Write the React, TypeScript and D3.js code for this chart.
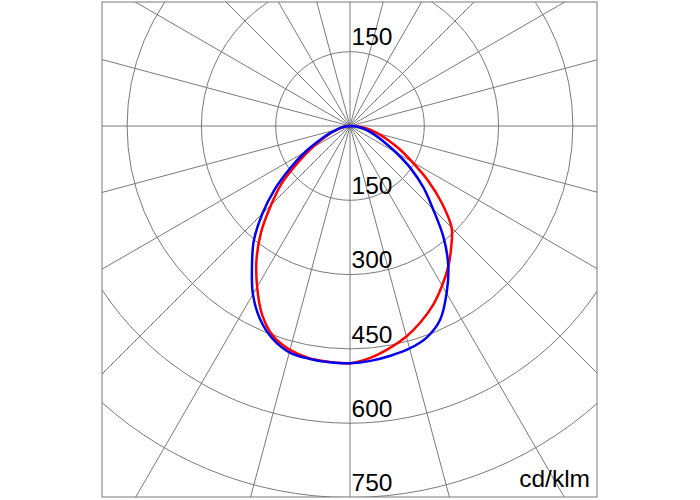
import React from "react";
import * as d3 from "d3";

// Gamma angles (degrees from nadir)
const gammas = [0, 5, 10, 15, 20, 25, 30, 35, 40, 45, 50, 55, 60, 65, 70, 75, 80, 85, 90];
// Red curve: C0 (right) / C180 (left), cd/klm
const redRight = [477, 470, 456, 440, 420, 398, 372, 346, 318, 290, 242, 192, 145, 110, 80, 58, 40, 22, 8];
const redLeft = [479, 478, 476, 468, 452, 420, 375, 329, 279, 225, 180, 128, 90, 60, 40, 25, 14, 6, 0];
// Blue curve: C90 (right) / C270 (left)
const blueRight = [479, 476, 471, 465, 454, 431, 390, 346, 294, 237, 194, 150, 108, 76, 54, 38, 26, 13, 0];
const blueLeft = [479, 479, 477, 473, 457, 430, 392, 345, 302, 250, 198, 146, 104, 67, 45, 28, 17, 8, 0];

const ringValues = [150, 300, 450, 600, 750];
const labelsBelow = ["150", "300", "450", "600", "750"];
const labelAbove = "150";
const unitLabel = "cd/klm";

export default function App() {
  const cx = 350;
  const cy = 126;
  const frame = { x: 102, y: 2, w: 495, h: 495 };
  const r = d3.scaleLinear().domain([0, 750]).range([0, 371.5]);
  const grid = "#7a7a7a";

  const buildPts = (left: number[], right: number[]) => {
    const pts: [number, number][] = [];
    for (let i = gammas.length - 1; i >= 0; i--) {
      pts.push([Math.PI + (gammas[i] * Math.PI) / 180, r(left[i])]);
    }
    for (let i = 1; i < gammas.length; i++) {
      pts.push([Math.PI - (gammas[i] * Math.PI) / 180, r(right[i])]);
    }
    return pts;
  };

  const line = d3
    .lineRadial<[number, number]>()
    .angle((d) => d[0])
    .radius((d) => d[1])
    .curve(d3.curveCatmullRom.alpha(0.5));

  const spokes = d3.range(0, 360, 15);
  const font = "'Liberation Sans', Arial, sans-serif";

  return (
    <svg
      width={700}
      height={500}
      style={{ position: "absolute", left: 0, top: 0, background: "#fff" }}
    >
      <defs>
        <clipPath id="frameClip">
          <rect x={frame.x} y={frame.y} width={frame.w} height={frame.h} />
        </clipPath>
      </defs>
      <g clipPath="url(#frameClip)">
        {ringValues.map((v) => (
          <circle key={v} cx={cx} cy={cy} r={r(v)} fill="none" stroke={grid} strokeWidth={1} />
        ))}
        {spokes.map((a) => {
          const rad = (a * Math.PI) / 180;
          return (
            <line
              key={a}
              x1={cx}
              y1={cy}
              x2={cx + 800 * Math.cos(rad)}
              y2={cy + 800 * Math.sin(rad)}
              stroke={grid}
              strokeWidth={1}
            />
          );
        })}
      </g>
      <rect
        x={frame.x}
        y={frame.y}
        width={frame.w}
        height={frame.h}
        fill="none"
        stroke={grid}
        strokeWidth={1}
      />
      <g transform={`translate(${cx},${cy})`}>
        <path d={line(buildPts(redLeft, redRight)) || ""} fill="none" stroke="#ff0000" strokeWidth={2.5} />
        <path d={line(buildPts(blueLeft, blueRight)) || ""} fill="none" stroke="#0000ee" strokeWidth={2.5} />
      </g>
      <g fontFamily={font} fontSize={24.5} fill="#000">
        <text x={cx + 1.5} y={cy - r(150) - 6.5}>{labelAbove}</text>
        {ringValues.map((v, i) => (
          <text key={v} x={cx + 1.5} y={cy + r(v) - 6.3}>
            {labelsBelow[i]}
          </text>
        ))}
        <text x={590} y={487} textAnchor="end">{unitLabel}</text>
      </g>
    </svg>
  );
}
